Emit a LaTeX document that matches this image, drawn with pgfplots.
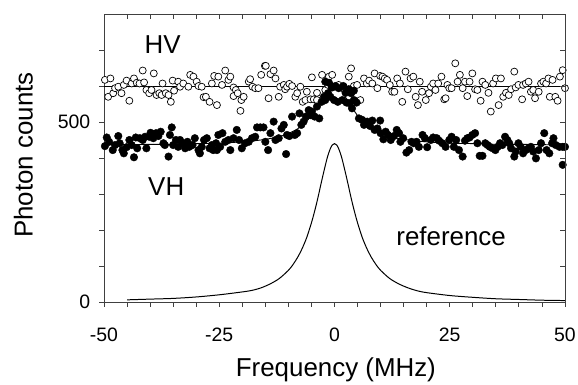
\documentclass[border=0pt]{standalone}
\usepackage{fontspec}
\setmainfont{Liberation Sans}
\usepackage{pgfplots}
\pgfplotsset{compat=1.18}

\pgfplotstableread{
x y
-49.8 617
-49.1 570
-48.6 621
-48.0 580
-47.6 594
-46.9 598
-46.2 580
-45.7 603
-45.1 615
-44.5 559
-44.0 607
-43.5 621
-42.9 609
-42.3 607
-41.6 643
-41.3 610
-40.8 589
-40.2 580
-39.7 589
-39.2 635
-38.6 575
-38.0 580
-37.5 575
-37.3 607
-36.6 580
-36.0 575
-35.5 556
-35.1 615
-34.8 587
-33.9 612
-33.5 598
-32.8 607
-31.7 598
-31.3 631
-30.6 626
-29.9 612
-29.5 600
-28.8 598
-28.4 569
-27.9 570
-27.1 556
-26.6 607
-26.1 628
-25.5 547
-25.2 626
-24.4 603
-23.7 643
-23.0 617
-22.6 626
-21.9 596
-21.9 572
-21.4 589
-21.0 580
-20.4 531
-20.2 561
-19.7 570
-18.6 612
-18.3 619
-17.8 598
-17.2 594
-16.5 594
-15.9 631
-15.1 656
-14.9 656
-14.3 566
-13.9 633
-13.2 643
-12.8 621
-12.1 570
-11.8 598
-11.0 603
-10.7 591
-10.3 598
-9.8 606
-9.2 600
-8.5 570
-8.1 580
-7.4 598
-6.9 556
-6.3 561
-6.0 584
-5.2 563
-4.9 624
-4.5 563
-3.8 561
-3.8 581
-2.7 631
-2.0 589
-1.4 603
-1.2 626
-0.6 598
-0.5 631
0.9 603
2.0 598
3.1 626
3.6 649
4.2 600
4.9 603
5.6 561
6.4 621
7.0 607
7.5 615
8.2 607
8.7 635
9.3 594
9.9 628
10.4 626
10.9 621
11.4 617
12.0 603
12.5 584
13.0 584
13.6 621
14.2 607
14.7 556
15.4 640
15.9 591
16.5 621
17.1 626
17.6 570
18.1 547
18.5 612
19.0 584
19.8 561
20.5 580
20.9 598
21.4 607
21.9 589
22.5 607
23.2 626
23.8 563
24.1 566
24.5 603
24.9 594
25.4 594
26.2 663
26.7 612
27.2 631
27.8 594
28.3 612
28.8 572
29.3 612
29.9 635
30.5 591
31.0 589
31.7 559
32.1 612
32.7 603
33.4 581
33.9 529
34.4 607
35.0 621
35.6 547
36.1 621
36.6 570
37.2 581
37.8 575
38.3 591
39.0 640
39.3 596
39.9 603
40.7 563
40.9 603
41.5 607
42.1 612
42.6 584
43.1 589
43.5 566
44.3 584
44.8 607
45.3 612
45.9 607
46.4 621
46.7 570
47.3 617
47.9 570
48.4 559
48.9 626
49.5 644
50.0 594
}\hvdata

\pgfplotstableread{
x y
-49.8 433
-49.4 457
-48.9 445
-48.1 422
-47.6 436
-46.9 461
-46.6 441
-46.0 422
-45.7 413
-45.1 430
-44.5 450
-44.0 436
-43.5 402
-43.1 457
-42.8 427
-42.2 455
-41.6 450
-41.1 459
-40.8 427
-40.2 459
-39.9 470
-39.3 455
-38.7 469
-38.2 461
-37.7 473
-37.1 441
-36.8 436
-36.0 404
-35.7 464
-35.3 485
-35.0 436
-34.4 450
-33.9 431
-33.5 450
-32.9 441
-32.4 427
-31.9 445
-31.5 431
-30.8 436
-30.3 455
-29.5 422
-29.2 413
-28.8 431
-28.3 450
-27.7 455
-27.1 427
-26.6 436
-26.3 422
-25.7 441
-25.5 422
-25.2 464
-24.8 431
-24.3 469
-23.7 445
-23.0 450
-22.6 422
-21.9 455
-21.2 478
-20.7 450
-20.1 427
-19.4 441
-18.6 445
-17.9 455
-17.2 459
-16.8 485
-16.1 485
-15.4 485
-15.0 445
-14.4 422
-13.9 469
-13.2 501
-12.8 450
-12.1 455
-11.5 482
-11.0 492
-10.5 411
-10.3 464
-9.8 461
-9.2 515
-8.6 464
-8.1 469
-7.6 524
-7.2 492
-6.7 501
-6.2 515
-5.6 533
-5.2 519
-4.9 529
-4.3 515
-3.8 543
-3.3 510
-2.8 556
-2.3 570
-2.0 561
-2.0 612
-1.4 580
-1.2 609
-0.9 570
-0.5 596
-0.4 598
-0.1 561
0.2 600
0.7 556
0.9 594
1.7 561
1.9 600
2.4 581
2.6 554
3.1 591
3.3 552
3.6 580
3.8 538
4.2 587
4.2 561
4.8 554
5.3 510
6.0 506
6.4 492
7.1 501
7.7 489
8.2 504
8.7 478
9.3 482
9.9 504
10.0 469
10.6 452
11.1 473
11.6 464
12.2 450
12.9 461
13.5 478
14.0 469
14.3 445
14.9 455
15.6 415
16.2 422
16.7 445
17.2 441
17.8 445
18.3 431
19.1 464
19.6 455
20.1 430
20.9 450
21.4 457
22.2 455
22.7 448
23.4 441
24.1 431
24.9 450
25.4 459
25.9 431
26.4 450
27.0 422
27.8 404
28.3 448
28.8 455
29.3 457
29.9 464
30.5 469
31.0 441
31.5 406
32.1 406
32.7 441
33.2 436
33.7 431
34.3 427
34.9 422
35.4 431
35.9 441
36.4 436
37.0 459
37.5 450
37.9 441
38.3 427
39.0 404
39.3 418
39.9 441
40.4 431
40.9 413
41.5 422
42.1 427
42.6 431
43.1 418
43.7 399
44.3 422
44.8 441
45.5 469
46.0 422
46.6 413
47.2 441
47.5 455
48.0 436
48.8 431
49.5 431
49.5 381
50.0 431
}\vhdata

\pgfplotstableread{
x y
-50 437
-45 437
-40 438
-35 438
-30 440
-25 441
-20 445
-18 447
-16 450
-14 454
-12 459
-10 468
-9 474
-8 481
-7 491
-6 503
-5 518
-4 536
-3 556
-2 577
-1 594
0 600
1 594
2 577
3 556
4 536
5 518
6 503
7 491
8 481
9 474
10 468
12 459
14 454
16 450
18 447
20 445
25 441
30 440
35 438
40 438
45 437
50 437
}\vhfit

\pgfplotstableread{
x y
-45 6
-40 8
-35 10
-30 14
-25 20
-20 28
-18 32
-16 39
-14 50
-12 65
-10 88
-9 104
-8 124
-7 149
-6 180
-5 220
-4.5 243
-4 268
-3.5 295
-3 324
-2.5 352
-2 379
-1.5 404
-1 423
-0.5 436
0 440
0.5 436
1 423
1.5 404
2 379
2.5 352
3 324
3.5 295
4 268
4.5 243
5 220
6 180
7 149
8 124
9 104
10 88
12 65
14 50
16 39
18 31
20 26
25 18
30 13
35 9
40 7
45 5
50 4
}\refdata

\begin{document}
\begin{tikzpicture}
\useasboundingbox (-104bp,-83bp) rectangle (474bp,302bp);
\pgfplotsset{
  common/.style={
    scale only axis, width=461bp, height=288bp,
    xmin=-50, xmax=50, ymin=0, ymax=800,
    xtick={-50,-25,0,25,50},
    minor xtick={-45,-40,-35,-30,-20,-15,-10,-5,5,10,15,20,30,35,40,45},
    ytick={0,500},
    minor ytick={100,200,300,400,600,700},
    major tick length=4.5bp, minor tick length=4.5bp,
    every tick/.style={black!75, line width=0.8pt},
    axis line style={black!75, line width=0.8pt},
  }
}
\begin{axis}[common,
  axis x line*=bottom, axis y line*=left,
  tick align=outside,
  clip=false,
  xticklabels={{-50},{-25},0,25,50},
  yticklabels={0,500},
  xticklabel style={font=\fontsize{19.5}{22}\selectfont, anchor=base, inner sep=0pt, yshift=-35bp},
  yticklabel style={font=\fontsize{19.5}{22}\selectfont, anchor=east, inner sep=0pt, xshift=-9bp},
  every axis x label/.style={at={(axis description cs:0.503,-0.26)}, anchor=base},
  every axis y label/.style={at={(axis description cs:-0.155,0.51)}, rotate=90, anchor=base},
  xlabel={\fontsize{26}{30}\selectfont Frequency (MHz)},
  ylabel={\fontsize{26}{30}\selectfont Photon counts},
]
\addplot[black, line width=1pt, smooth] table[x=x,y=y] {\refdata};
\addplot[black, line width=0.9pt, smooth] table[x=x,y=y] {\vhfit};
\addplot[black, line width=0.9pt] coordinates {(-50,598) (50,598)};
\addplot[only marks, mark=*, mark size=3.5bp, mark options={draw=black, fill=white, line width=0.7pt}] table[x=x,y=y] {\hvdata};
\addplot[only marks, mark=*, mark size=3.8bp, mark options={draw=black, fill=black}] table[x=x,y=y] {\vhdata};
\node[anchor=base, inner sep=0pt, font=\fontsize{26}{30}\selectfont] at (axis cs:-37.3,691) {HV};
\node[anchor=base, inner sep=0pt, font=\fontsize{26}{30}\selectfont] at (axis cs:-36.5,297) {VH};
\node[anchor=base, inner sep=0pt, font=\fontsize{26}{30}\selectfont] at (axis cs:25.3,156) {reference};
\end{axis}
\begin{axis}[common,
  axis x line*=top, axis y line*=right,
  tick align=inside,
  xticklabels={}, yticklabels={},
]
\end{axis}
\end{tikzpicture}
\end{document}
